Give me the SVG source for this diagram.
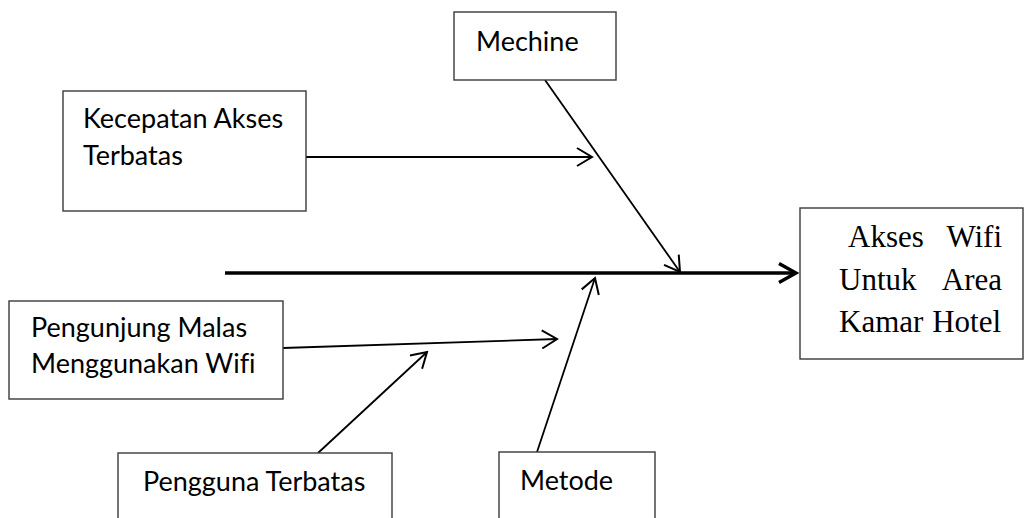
<svg xmlns="http://www.w3.org/2000/svg" width="1026" height="518" viewBox="0 0 1026 518">
  <style>
    .box { fill: #ffffff; stroke: #3a3a3a; stroke-width: 1.4; }
    .lbl { font-family: Lato, "Liberation Sans", sans-serif; font-size: 27px; fill: #000000; font-variant-ligatures: none; }
    .eff { font-family: "Liberation Serif", "Times New Roman", serif; font-size: 31px; fill: #000000; }
    .bone { fill: none; stroke: #000000; stroke-width: 1.8; }
    .spine { fill: none; stroke: #000000; stroke-width: 3.6; }
  </style>
  <defs>
    <marker id="arrow" markerUnits="userSpaceOnUse" viewBox="0 0 20 20" refX="17" refY="10" markerWidth="20" markerHeight="20" orient="auto">
      <path d="M2,1 L17,10 L2,19" fill="none" stroke="#000000" stroke-width="2"/>
    </marker>
    <marker id="arrow-bold" markerUnits="userSpaceOnUse" viewBox="0 0 22 22" refX="19" refY="11" markerWidth="22" markerHeight="22" orient="auto">
      <path d="M2,1.5 L19,11 L2,20.5" fill="none" stroke="#000000" stroke-width="3.4" stroke-linejoin="miter"/>
    </marker>
  </defs>

  <rect width="1026" height="518" fill="#ffffff"/>

  <!-- connectors: main spine and the cause bones -->
  <g id="connectors">
    <line class="spine" x1="225" y1="273" x2="796" y2="273" marker-end="url(#arrow-bold)"/>
    <line class="bone" x1="545" y1="80" x2="680" y2="272" marker-end="url(#arrow)"/>
    <line class="bone" x1="306" y1="157" x2="592" y2="157" marker-end="url(#arrow)"/>
    <line class="bone" x1="283" y1="348" x2="557" y2="339" marker-end="url(#arrow)"/>
    <line class="bone" x1="318" y1="453" x2="427" y2="352" marker-end="url(#arrow)"/>
    <line class="bone" x1="537" y1="452" x2="595" y2="278" marker-end="url(#arrow)"/>
  </g>

  <g id="node-mechine">
    <rect class="box" x="454" y="12" width="162" height="68"/>
    <text class="lbl" x="476" y="51">Mechine</text>
  </g>

  <g id="node-kecepatan">
    <rect class="box" x="63" y="91" width="243" height="120"/>
    <text class="lbl" x="83" y="128">Kecepatan Akses</text>
    <text class="lbl" x="83" y="165">Terbatas</text>
  </g>

  <g id="node-pengunjung">
    <rect class="box" x="9" y="301" width="274" height="98"/>
    <text class="lbl" x="31" y="337">Pengunjung Malas</text>
    <text class="lbl" x="31" y="373">Menggunakan Wifi</text>
  </g>

  <g id="node-pengguna">
    <rect class="box" x="118" y="453" width="274" height="80"/>
    <text class="lbl" x="143" y="491">Pengguna Terbatas</text>
  </g>

  <g id="node-metode">
    <rect class="box" x="499" y="452" width="156" height="80"/>
    <text class="lbl" x="520" y="490">Metode</text>
  </g>

  <g id="node-effect">
    <rect class="box" x="800" y="208" width="223" height="151"/>
    <text class="eff" x="848" y="247">Akses</text>
    <text class="eff" x="1002" y="247" text-anchor="end">Wifi</text>
    <text class="eff" x="839" y="290">Untuk</text>
    <text class="eff" x="1002" y="290" text-anchor="end">Area</text>
    <text class="eff" x="839" y="332">Kamar</text>
    <text class="eff" x="1001" y="332" text-anchor="end">Hotel</text>
  </g>
</svg>
